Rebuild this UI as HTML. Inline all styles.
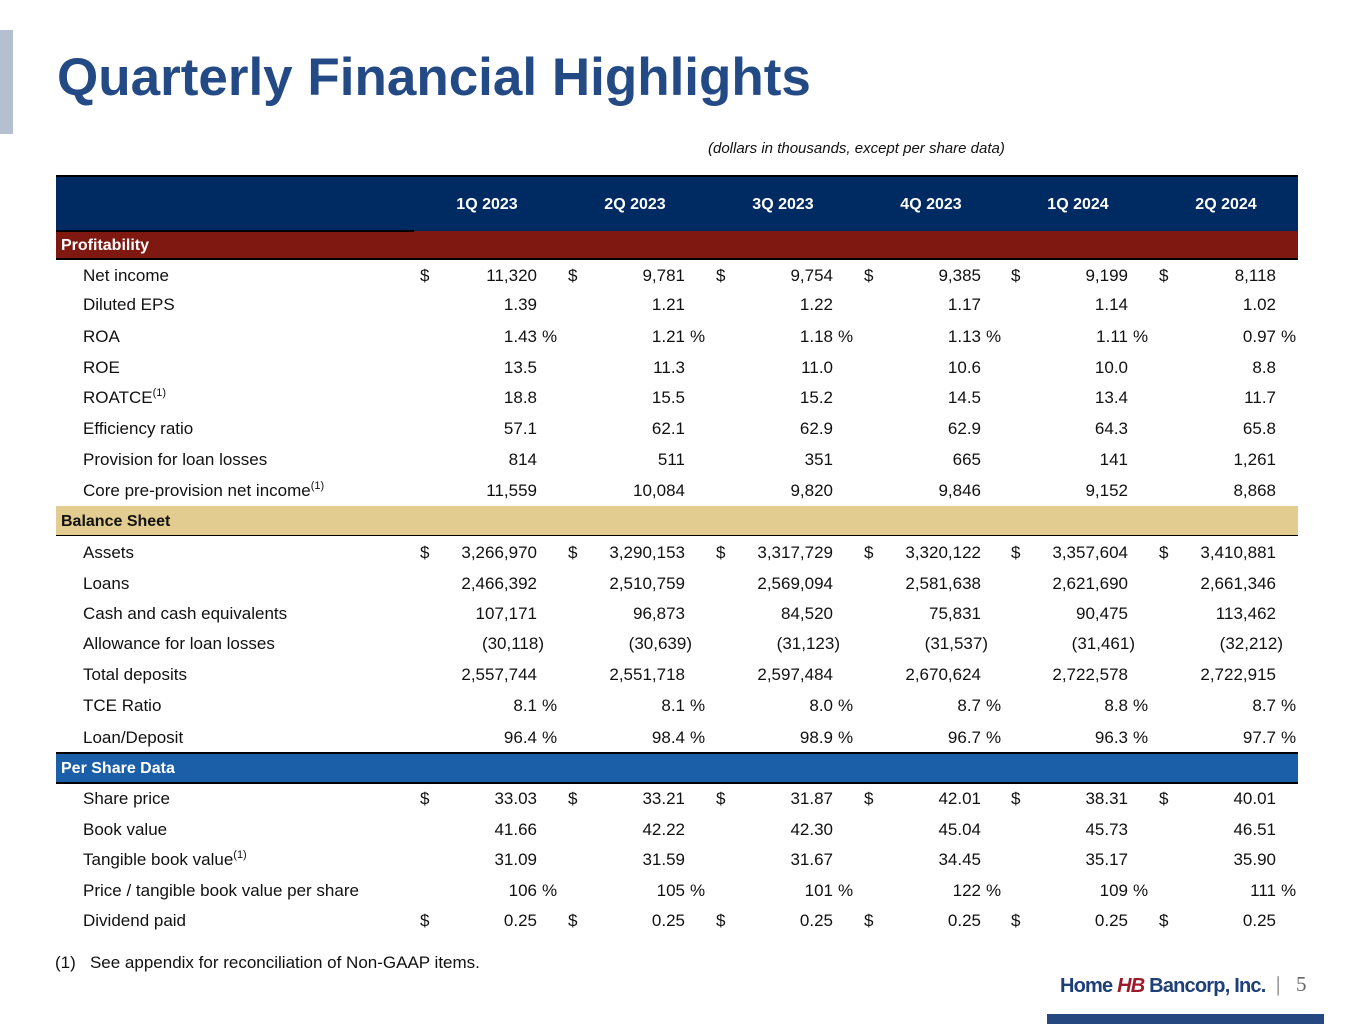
<!DOCTYPE html>
<html><head><meta charset="utf-8">
<style>
body{margin:0;width:1365px;height:1024px;position:relative;background:#fff;font-family:"Liberation Sans",Arial,sans-serif;overflow:hidden}
.a{position:absolute;white-space:nowrap}
.t{font-size:17px;color:#111;line-height:18px}
</style></head><body>
<div class="a" style="left:0;top:30px;width:13px;height:104px;background:#b4bfd0"></div>
<div class="a" style="left:57px;top:46px;font-size:53px;font-weight:bold;color:#234a85;line-height:64px">Quarterly Financial Highlights</div>
<div class="a" style="left:708px;top:140px;font-size:15px;font-style:italic;color:#111">(dollars in thousands, except per share data)</div>
<div class="a" style="left:56px;top:175px;width:1242px;height:56px;background:#002a62;border-top:2px solid #000;box-sizing:border-box"></div>
<div class="a" style="left:56px;top:231px;width:1242px;height:29px;background:#7f1811;border-bottom:2px solid #000;box-sizing:border-box"></div>
<div class="a" style="left:56px;top:230px;width:358px;height:2px;background:#000"></div>
<div class="a" style="left:56px;top:506px;width:1242px;height:30px;background:#e2cc8f;border-bottom:1px solid #000;box-sizing:border-box"></div>
<div class="a" style="left:56px;top:752px;width:1242px;height:32px;background:#1b5fa8;border-top:2px solid #000;border-bottom:2px solid #000;box-sizing:border-box"></div>
<div class="a" style="left:61px;top:237px;font-size:16px;font-weight:bold;color:#fff">Profitability</div>
<div class="a" style="left:61px;top:513px;font-size:16px;font-weight:bold;color:#111">Balance Sheet</div>
<div class="a" style="left:61px;top:760px;font-size:16px;font-weight:bold;color:#fff">Per Share Data</div>
<div id="tbl"></div>
<div class="a" style="left:55px;top:953px;font-size:17px;color:#111">(1)&nbsp;&nbsp; See appendix for reconciliation of Non-GAAP items.</div>
<div class="a" style="left:1060px;top:975px;font-size:20px;font-weight:bold;color:#1f3f78;font-family:'Liberation Sans Narrow','Liberation Sans',sans-serif;letter-spacing:-0.8px">Home <span style="color:#9b1b2c;font-style:italic">HB</span> Bancorp, Inc.</div>
<div class="a" style="left:1276px;top:972px;font-size:21px;color:#666;font-family:'Liberation Serif',serif">|&nbsp;&nbsp; 5</div>
<div class="a" style="left:1047px;top:1014px;width:277px;height:10px;background:#24487f"></div>
<script>
const quarters=["1Q 2023","2Q 2023","3Q 2023","4Q 2023","1Q 2024","2Q 2024"];
const rowLabels=["Net income","Diluted EPS","ROA","ROE","ROATCE","Efficiency ratio","Provision for loan losses","Core pre-provision net income","Assets","Loans","Cash and cash equivalents","Allowance for loan losses","Total deposits","TCE Ratio","Loan/Deposit","Share price","Book value","Tangible book value","Price / tangible book value per share","Dividend paid"];
const rowFoot=[0,0,0,0,1,0,0,1,0,0,0,0,0,0,0,0,0,1,0,0];
const rowDollar=[1,0,0,0,0,0,0,0,1,0,0,0,0,0,0,1,0,0,0,1];
const rowPct=[0,0,1,0,0,0,0,0,0,0,0,0,0,1,1,0,0,0,1,0];
const rowY=[275,304,336,367,397,428,459,490,552,583,613,643,674,705,737,798,829,859,890,920];
const v1Q23=["11,320","1.39","1.43","13.5","18.8","57.1","814","11,559","3,266,970","2,466,392","107,171","(30,118)","2,557,744","8.1","96.4","33.03","41.66","31.09","106","0.25"];
const v2Q23=["9,781","1.21","1.21","11.3","15.5","62.1","511","10,084","3,290,153","2,510,759","96,873","(30,639)","2,551,718","8.1","98.4","33.21","42.22","31.59","105","0.25"];
const v3Q23=["9,754","1.22","1.18","11.0","15.2","62.9","351","9,820","3,317,729","2,569,094","84,520","(31,123)","2,597,484","8.0","98.9","31.87","42.30","31.67","101","0.25"];
const v4Q23=["9,385","1.17","1.13","10.6","14.5","62.9","665","9,846","3,320,122","2,581,638","75,831","(31,537)","2,670,624","8.7","96.7","42.01","45.04","34.45","122","0.25"];
const v1Q24=["9,199","1.14","1.11","10.0","13.4","64.3","141","9,152","3,357,604","2,621,690","90,475","(31,461)","2,722,578","8.8","96.3","38.31","45.73","35.17","109","0.25"];
const v2Q24=["8,118","1.02","0.97","8.8","11.7","65.8","1,261","8,868","3,410,881","2,661,346","113,462","(32,212)","2,722,915","8.7","97.7","40.01","46.51","35.90","111","0.25"];
const cols=[v1Q23,v2Q23,v3Q23,v4Q23,v1Q24,v2Q24];
const colX=[537,685,833,981,1128,1276];
const tbl=document.getElementById('tbl');
function add(html,style,name){const d=document.createElement('div');d.className='a t';d.innerHTML=html;d.style.cssText+=style;


tbl.appendChild(d);return d;}
quarters.forEach((q,i)=>{add(q,`left:${colX[i]-100}px;width:100px;text-align:center;top:196px;color:#fff;font-weight:bold;font-size:16px`,'column-header');});
rowLabels.forEach((l,r)=>{
 const top=rowY[r]-8;
 add(l+(rowFoot[r]?'<sup style="font-size:11px;vertical-align:7px;line-height:0">(1)</sup>':''),`left:83px;top:${top}px`,'row-label');
 cols.forEach((c,i)=>{
  add(c[r],`right:${1365-colX[i]-(c[r][0]=='('?7:0)}px;top:${top}px;text-align:right`,'cell-value');
  if(rowDollar[r]) add('$',`left:${colX[i]-117}px;top:${top}px`,'dollar-sign');
  if(rowPct[r]) add('%',`left:${colX[i]+5}px;top:${top}px`,'percent-sign');
 });
});
</script>
</body></html>
